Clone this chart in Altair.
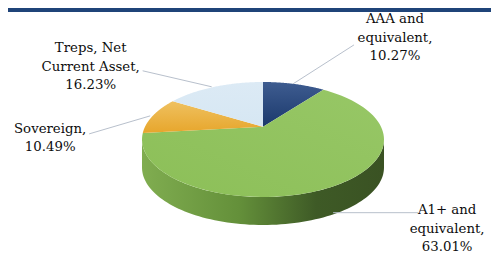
import math
import altair as alt

# ---------------- data ----------------
categories = ["AAA and equivalent", "A1+ and equivalent", "Sovereign", "Treps, Net Current Asset"]
values = [10.27, 63.01, 10.49, 16.23]
label_lines = [["AAA and", "equivalent,"], ["A1+ and", "equivalent,"], ["Sovereign,"], ["Treps, Net", "Current Asset,"]]

# ---------------- style ----------------
W, H = 483, 249
CX, CY = 255, 131.5        # ellipse centre (chart px)
RX, RY = 121, 57.5         # ellipse radii (px)
PERSP = 0.22               # perspective shift of the pie apex
DEPTH = 28                 # pie thickness (px)
N = 90
LH = 18.5
FONT = "DejaVu Serif"
SQ = math.sqrt(1 - PERSP ** 2)


def grad_v(c0, c1):
    return alt.Gradient(gradient="linear",
                        stops=[alt.GradientStop(color=c0, offset=0), alt.GradientStop(color=c1, offset=1)],
                        x1=0, x2=0, y1=0, y2=1)


TOP_FILL = {
    "AAA and equivalent": grad_v("#3e5c90", "#1b396c"),
    "A1+ and equivalent": alt.Gradient(gradient="linear",
                                       stops=[alt.GradientStop(color="#97c766", offset=0),
                                              alt.GradientStop(color="#8cbf58", offset=1)],
                                       x1=1, x2=0, y1=0, y2=1),
    "Sovereign": grad_v("#efc160", "#e7a62c"),
    "Treps, Net Current Asset": grad_v("#dceaf5", "#d6e7f3"),
}
# offsets in px relative to the slice's mid-angle edge point
LABEL_STYLE = {
    "AAA and equivalent": dict(start=(-1, 0), end=(60, -39), text=(101, -46)),
    "A1+ and equivalent": dict(start=(-2, 27), end=(83, 27), text=(112, 43)),
    "Sovereign": dict(start=(-3, 0.5), end=(-64, 18.5), text=(-103, 22.5)),
    "Treps, Net Current Asset": dict(start=(-3, 0), end=(-72, -16), text=(-124, -20)),
}

records = [{"cat": c, "val": v, "k": k} for k, (c, v) in enumerate(zip(categories, values))]
slices = alt.Data(values=records)

xs = alt.Scale(domain=[-1, 1], range=[CX - RX, CX + RX])
ys = alt.Scale(domain=[-1, 1], range=[CY + RY, CY - RY])
D = DEPTH / RY

PX = f"sin(datum.th)*{SQ}/(1+{PERSP}*cos(datum.th))"
PY = f"(cos(datum.th)+{PERSP})/(1+{PERSP}*cos(datum.th))"


def base():
    return (
        alt.Chart(slices)
        .transform_window(cum="sum(val)", sort=[alt.SortField("k")], frame=[None, 0])
        .transform_joinaggregate(total="sum(val)")
        .transform_calculate(a0="2*PI*(datum.cum-datum.val)/datum.total")
        .transform_calculate(a1="2*PI*datum.cum/datum.total")
    )


def top_face(cat):
    return (
        base()
        .transform_filter(alt.datum.cat == cat)
        .transform_calculate(pts=f"sequence(-1, {N + 1})")
        .transform_flatten(["pts"], as_=["i"])
        .transform_calculate(th=f"datum.a0 + (datum.a1-datum.a0)*datum.i/{N}")
        .transform_calculate(px=f"datum.i < 0 ? 0 : {PX}")
        .transform_calculate(py=f"datum.i < 0 ? {PERSP} : {PY}")
        .mark_line(strokeWidth=0, strokeOpacity=0, fill=TOP_FILL[cat])
        .encode(
            x=alt.X("px:Q", scale=xs, axis=None),
            y=alt.Y("py:Q", scale=ys, axis=None),
            order=alt.Order("i:Q"),
        )
    )


LIM = math.acos(-PERSP)


def side(cat, fill):
    return (
        base()
        .transform_filter(alt.datum.cat == cat)
        .transform_calculate(b0=f"max(datum.a0, {LIM})")
        .transform_calculate(b1=f"min(datum.a1, {2 * math.pi - LIM})")
        .transform_filter("datum.b1 > datum.b0")
        .transform_calculate(pts=f"sequence(0, {2 * N + 2})")
        .transform_flatten(["pts"], as_=["i"])
        .transform_calculate(up=f"datum.i <= {N} ? 1 : 0")
        .transform_calculate(t=f"datum.i <= {N} ? datum.i/{N} : 1 - (datum.i-{N + 1})/{N}")
        .transform_calculate(th="datum.b0 + (datum.b1-datum.b0)*datum.t")
        .transform_calculate(px=PX)
        .transform_calculate(py=f"{PY} - (datum.up == 1 ? 0 : {D})")
        .mark_line(strokeWidth=0, strokeOpacity=0, fill=fill)
        .encode(
            x=alt.X("px:Q", scale=xs, axis=None),
            y=alt.Y("py:Q", scale=ys, axis=None),
            order=alt.Order("i:Q"),
        )
    )


green_grad = alt.Gradient(
    gradient="linear",
    stops=[
        alt.GradientStop(color="#80ad50", offset=0),
        alt.GradientStop(color="#64903a", offset=0.4),
        alt.GradientStop(color="#3e5a26", offset=0.72),
        alt.GradientStop(color="#3a5223", offset=1),
    ],
    x1=0, x2=1, y1=0, y2=0,
)
side_green = side("A1+ and equivalent", green_grad)
side_orange = side("Sovereign", "#c08a2c")

# labels
total = sum(values)
lab = []
cum = 0.0
for c, v, lines in zip(categories, values, label_lines):
    mid = 2 * math.pi * (cum + v / 2) / total
    cum += v
    dd = 1 + PERSP * math.cos(mid)
    ex, ey = math.sin(mid) * SQ / dd, (math.cos(mid) + PERSP) / dd
    st = LABEL_STYLE[c]
    all_lines = lines + [f"{v:.2f}%"]
    shift = (len(all_lines) - 1) / 2 * LH
    lab.append(dict(
        cat=c,
        lines=all_lines,
        sx=ex + st["start"][0] / RX, sy=ey - st["start"][1] / RY,
        ex=ex + st["end"][0] / RX, ey=ey - st["end"][1] / RY,
        tx=ex + st["text"][0] / RX, ty=ey - (st["text"][1] - shift) / RY,
    ))
lab_data = alt.Data(values=lab)

rules = alt.Chart(lab_data).mark_rule(color="#b8c0cc", strokeWidth=1).encode(
    x=alt.X("sx:Q", scale=xs, axis=None),
    y=alt.Y("sy:Q", scale=ys, axis=None),
    x2="ex:Q",
    y2="ey:Q",
)
texts = alt.Chart(lab_data).mark_text(
    font=FONT, fontSize=13.3, lineHeight=LH, align="center", baseline="middle", color="#0d0d0d"
).encode(
    x=alt.X("tx:Q", scale=xs, axis=None),
    y=alt.Y("ty:Q", scale=ys, axis=None),
    text=alt.Text("lines:N"),
)

stripe = alt.Chart(alt.Data(values=[{"a": 1}])).mark_rect(color="#1f4479").encode(
    x=alt.value(0), x2=alt.value(W), y=alt.value(0), y2=alt.value(4)
)

layers = [stripe, side_green, side_orange] + [top_face(c) for c in categories] + [rules, texts]
chart = (
    alt.layer(*layers)
    .properties(width=W, height=H, padding=0, autosize="none")
    .configure_view(stroke=None)
)

chart.save("out.html", embed_options={"renderer": "svg", "actions": False})
